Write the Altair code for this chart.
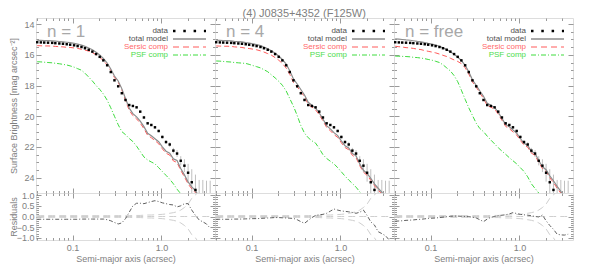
import altair as alt
import pandas as pd

# ---------------- data ----------------
SMA = [0.040, 0.044, 0.048, 0.053, 0.059, 0.064, 0.071, 0.078, 0.086, 0.094,
       0.104, 0.114, 0.126, 0.138, 0.152, 0.167, 0.184, 0.202, 0.222, 0.245,
       0.269, 0.296, 0.326, 0.358, 0.394, 0.434, 0.477, 0.525, 0.577, 0.635,
       0.699, 0.769, 0.845, 0.930, 1.023, 1.125, 1.238, 1.361, 1.497, 1.647,
       1.812, 1.993, 2.192, 2.412, 2.653, 2.918, 3.210, 3.531]

DATA_MAG = [15.18, 15.19, 15.20, 15.21, 15.22, 15.24, 15.26, 15.28, 15.31, 15.34,
            15.38, 15.43, 15.49, 15.57, 15.67, 15.79, 15.95, 16.13, 16.36, 16.68,
            17.12, 17.66, 18.05, 18.50, 18.94, 19.27, 19.33, 19.42, 19.70, 20.08,
            20.46, 20.57, 20.72, 20.96, 21.35, 21.68, 21.84, 22.24, 22.43, 22.90,
            23.22, 23.68, 24.30, 24.80, 25.40, 25.75, 26.20, 26.70]

DATA_ERR = [0.04, 0.04, 0.04, 0.04, 0.04, 0.04, 0.04, 0.04, 0.04, 0.04,
            0.04, 0.04, 0.04, 0.04, 0.04, 0.04, 0.04, 0.04, 0.04, 0.04,
            0.04, 0.04, 0.04, 0.04, 0.04, 0.04, 0.05, 0.05, 0.05, 0.06,
            0.07, 0.07, 0.08, 0.09, 0.10, 0.12, 0.15, 0.18, 0.22, 0.30,
            0.42, 0.58, 0.85, 1.00, 1.25, 1.60, 2.00, 2.50]

TOTAL_N1 = [15.05, 15.06, 15.07, 15.08, 15.09, 15.11, 15.13, 15.15, 15.18, 15.21,
            15.25, 15.30, 15.37, 15.45, 15.55, 15.67, 15.83, 16.01, 16.24, 16.53,
            16.92, 17.38, 17.70, 18.20, 18.84, 19.47, 19.83, 20.04, 20.32, 20.68,
            21.11, 21.27, 21.46, 21.66, 21.99, 22.28, 22.40, 22.78, 22.88, 23.40,
            23.82, 24.28, 24.60, 24.85, 25.24, 25.50, 25.85, 26.15]
SERSIC_N1 = [15.40, 15.41, 15.42, 15.42, 15.43, 15.45, 15.47, 15.48, 15.51, 15.52,
             15.55, 15.58, 15.64, 15.69, 15.76, 15.86, 15.99, 16.16, 16.38, 16.65,
             17.03, 17.48, 17.78, 18.28, 18.97, 19.62, 19.96, 20.17, 20.45, 20.81,
             21.24, 21.40, 21.59, 21.79, 22.12, 22.41, 22.53, 22.91, 23.01, 23.53,
             23.95, 24.41, 24.73, 24.98, 25.37, 25.63, 25.98, 26.28]
PSF_N1 = [16.45, 16.46, 16.48, 16.50, 16.52, 16.55, 16.58, 16.62, 16.66, 16.72,
          16.80, 16.90, 17.00, 17.20, 17.45, 17.70, 18.00, 18.25, 18.55, 18.95,
          19.45, 20.00, 20.55, 21.00, 21.20, 21.45, 21.65, 21.95, 22.30, 22.65,
          22.85, 22.98, 23.10, 23.35, 23.60, 23.85, 24.10, 24.40, 24.75, 25.05,
          25.40, 25.75, 26.10, 26.50, 26.90, 27.30, 27.70, 28.10]
RESID_N1 = [-0.13, -0.13, -0.13, -0.13, -0.13, -0.13, -0.13, -0.13, -0.13, -0.13,
            -0.13, -0.13, -0.12, -0.12, -0.12, -0.12, -0.12, -0.12, -0.12, -0.15,
            -0.20, -0.28, -0.35, -0.30, -0.10, 0.20, 0.50, 0.62, 0.62, 0.60,
            0.65, 0.70, 0.74, 0.70, 0.64, 0.60, 0.56, 0.54, 0.45, 0.50,
            0.60, 0.60, 0.30, 0.05, -0.16, -0.25, -0.35, -0.55]

TOTAL_N4 = [15.05, 15.06, 15.07, 15.08, 15.09, 15.12, 15.14, 15.16, 15.20, 15.23,
            15.28, 15.33, 15.40, 15.49, 15.60, 15.73, 15.90, 16.08, 16.30, 16.61,
            17.04, 17.57, 17.90, 18.26, 18.62, 19.09, 19.28, 19.47, 19.78, 20.18,
            20.61, 20.82, 21.07, 21.26, 21.61, 21.92, 22.06, 22.43, 22.58, 23.10,
            23.52, 23.73, 24.05, 24.40, 24.69, 24.95, 25.30, 25.60]
SERSIC_N4 = [15.42, 15.43, 15.44, 15.44, 15.45, 15.48, 15.50, 15.52, 15.57, 15.59,
             15.63, 15.67, 15.74, 15.82, 15.92, 16.02, 16.18, 16.35, 16.56, 16.86,
             17.27, 17.80, 18.08, 18.40, 18.73, 19.23, 19.40, 19.59, 19.90, 20.30,
             20.73, 20.94, 21.19, 21.38, 21.73, 22.04, 22.18, 22.55, 22.70, 23.22,
             23.64, 23.85, 24.17, 24.52, 24.81, 25.07, 25.42, 25.72]
PSF_N4 = [16.40, 16.41, 16.43, 16.45, 16.47, 16.50, 16.52, 16.54, 16.56, 16.62,
          16.70, 16.77, 16.85, 16.97, 17.10, 17.30, 17.50, 17.72, 17.98, 18.35,
          18.85, 19.35, 19.95, 20.60, 21.10, 21.40, 21.60, 21.75, 22.10, 22.50,
          22.75, 22.93, 23.10, 23.35, 23.62, 23.90, 24.15, 24.38, 24.62, 24.92,
          25.20, 25.50, 25.80, 26.10, 26.40, 26.70, 27.00, 27.30]
RESID_N4 = [-0.13, -0.13, -0.13, -0.13, -0.13, -0.12, -0.12, -0.12, -0.11, -0.11,
            -0.10, -0.10, -0.09, -0.08, -0.07, -0.06, -0.05, -0.05, -0.06, -0.07,
            -0.08, -0.09, -0.15, -0.24, -0.32, -0.18, -0.05, 0.05, 0.08, 0.10,
            0.15, 0.25, 0.35, 0.30, 0.26, 0.24, 0.22, 0.19, 0.15, 0.20,
            0.30, 0.05, -0.25, -0.40, -0.71, -0.80, -0.90, -1.10]

TOTAL_NFREE = [14.96, 14.98, 15.00, 15.03, 15.05, 15.08, 15.12, 15.15, 15.20, 15.25,
               15.30, 15.36, 15.44, 15.54, 15.66, 15.80, 15.97, 16.15, 16.37, 16.68,
               17.11, 17.63, 17.98, 18.35, 18.70, 19.15, 19.29, 19.42, 19.74, 20.14,
               20.54, 20.69, 20.90, 21.10, 21.45, 21.76, 21.90, 22.28, 22.43, 22.88,
               23.29, 23.48, 23.88, 24.20, 24.57, 24.89, 25.33, 25.87]
SERSIC_NFREE = [15.44, 15.47, 15.49, 15.53, 15.55, 15.58, 15.63, 15.66, 15.72, 15.77,
                15.82, 15.87, 15.95, 16.03, 16.11, 16.22, 16.33, 16.43, 16.57, 16.84,
                17.25, 17.77, 18.10, 18.47, 18.84, 19.30, 19.41, 19.54, 19.86, 20.26,
                20.66, 20.81, 21.02, 21.22, 21.57, 21.88, 22.02, 22.40, 22.55, 23.00,
                23.41, 23.60, 24.00, 24.32, 24.69, 25.01, 25.45, 25.99]
PSF_NFREE = [16.08, 16.09, 16.10, 16.11, 16.13, 16.16, 16.18, 16.21, 16.25, 16.30,
             16.35, 16.42, 16.50, 16.65, 16.85, 17.05, 17.35, 17.75, 18.30, 18.90,
             19.45, 19.95, 20.45, 20.80, 21.00, 21.30, 21.55, 21.80, 22.05, 22.27,
             22.48, 22.70, 22.90, 23.10, 23.35, 23.60, 23.95, 24.40, 24.70, 25.00,
             25.30, 25.60, 25.90, 26.20, 26.50, 26.80, 27.10, 27.40]
RESID_NFREE = [-0.22, -0.21, -0.20, -0.18, -0.17, -0.16, -0.14, -0.13, -0.11, -0.09,
               -0.08, -0.07, -0.05, -0.03, -0.01, 0.01, 0.02, 0.02, 0.01, 0.00,
               -0.01, -0.03, -0.07, -0.15, -0.24, -0.12, -0.04, 0.00, 0.04, 0.06,
               0.08, 0.12, 0.18, 0.14, 0.10, 0.08, 0.06, 0.04, 0.00, -0.02,
               0.07, -0.20, -0.42, -0.60, -0.83, -0.86, -0.87, -0.83]

PANEL_LABELS = ["n = 1", "n = 4", "n = free"]
LEGEND_LABELS = ["data", "total model", "Sersic comp", "PSF comp"]
TITLE = "(4) J0835+4352 (F125W)"
Y_TITLE = "Surface Brightness [mag arcsec\u207b\u00b2]"
R_TITLE = "Residuals"
X_TITLE = "Semi-major axis (acrsec)"

X_MAJOR = [0.1, 1.0]
X_MINOR = [0.04, 0.05, 0.06, 0.07, 0.08, 0.09, 0.2, 0.3, 0.4, 0.5, 0.6, 0.7,
           0.8, 0.9, 2.0, 3.0]
Y_MAJOR = [14, 16, 18, 20, 22, 24]
Y_MINOR = [14.5, 15, 15.5, 16.5, 17, 17.5, 18.5, 19, 19.5, 20.5, 21, 21.5,
           22.5, 23, 23.5, 24.5]
R_MAJOR = [-1.0, -0.5, 0.0, 0.5, 1.0]
R_MINOR = [-0.9, -0.8, -0.7, -0.6, -0.4, -0.3, -0.2, -0.1, 0.1, 0.2, 0.3, 0.4,
           0.6, 0.7, 0.8, 0.9]

TOTALS = [TOTAL_N1, TOTAL_N4, TOTAL_NFREE]
SERSICS = [SERSIC_N1, SERSIC_N4, SERSIC_NFREE]
PSFS = [PSF_N1, PSF_N4, PSF_NFREE]
RESIDS = [RESID_N1, RESID_N4, RESID_NFREE]

# ---------------- style ----------------
FONT = "Liberation Sans"
AX = "#808080"
ERRC = "#b0b0b0"
GREYL = "#8c8c8c"
RED = "#ff5a5a"
GREEN = "#3edc3e"
LIGHT = "#cfcfcf"
DARK = "#5f5f5f"
PW, MH, RH = 179, 175, 47
BIG, SMALL = 5, 2.5

XS = alt.Scale(type="log", domain=[0.0388, 4.0], nice=False)
YS = alt.Scale(domain=[25.0, 13.6], nice=False, zero=False)
RS = alt.Scale(domain=[-1.1, 1.1], nice=False, zero=False)


def axis(orient, values, size, labels=False, fmt="", title=None, pad=2, **kw):
    args = dict(orient=orient, values=values, tickSize=alt.ExprRef(f"{-size}"),
                ticks=True, domain=False, grid=False, labels=labels,
                tickColor=AX, tickWidth=0.8, title=title)
    if labels:
        args.update(labelColor=AX, labelFont=FONT, labelFontSize=9,
                    labelPadding=size + pad, format=fmt)
    if title:
        args.update(titleColor=AX, titleFont=FONT, titleFontSize=9,
                    titleFontWeight="normal")
    args.update(kw)
    return alt.Axis(**args)


def decorations(k):
    layers = []
    layers.append(alt.Chart().mark_text(align="left", baseline="middle", font=FONT,
                                        fontSize=17, color="#a8a8a8").encode(
        x=alt.value(11), y=alt.value(14), text=alt.value(PANEL_LABELS[k])))
    ys = [13, 21, 29, 37]
    tcol = ["#505050", "#505050", "#ff6a6a", "#4ddc4d"]
    for i, lab in enumerate(LEGEND_LABELS):
        layers.append(alt.Chart().mark_text(align="right", baseline="middle", font=FONT,
                                            fontSize=8, color=tcol[i]).encode(
            x=alt.value(132), y=alt.value(ys[i]), text=alt.value(lab)))
    layers.append(alt.Chart().mark_rule(color="black", strokeWidth=2.5,
                                        strokeDash=[2.5, 7.8]).encode(
        x=alt.value(137), x2=alt.value(170), y=alt.value(ys[0])))
    layers.append(alt.Chart().mark_rule(color=GREYL, strokeWidth=1.3).encode(
        x=alt.value(137), x2=alt.value(170), y=alt.value(ys[1])))
    layers.append(alt.Chart().mark_rule(color=RED, strokeWidth=1, strokeDash=[6, 4]).encode(
        x=alt.value(137), x2=alt.value(170), y=alt.value(ys[2])))
    layers.append(alt.Chart().mark_rule(color=GREEN, strokeWidth=1,
                                        strokeDash=[5, 2, 1, 2]).encode(
        x=alt.value(137), x2=alt.value(170), y=alt.value(ys[3])))
    return layers


def main_panel(k):
    first = k == 0
    df = pd.DataFrame({"sma": SMA, "mag": DATA_MAG, "err": DATA_ERR,
                       "tot": TOTALS[k], "ser": SERSICS[k], "psf": PSFS[k]})
    df["lo"] = df["mag"] - df["err"]
    df["hi"] = df["mag"] + df["err"]
    base = alt.Chart(df)
    yl = axis("left", Y_MAJOR, BIG, labels=first, fmt="d",
              title=Y_TITLE if first else None, titleX=-18, titleY=MH / 2)
    err = base.mark_rule(color=ERRC, strokeWidth=0.8, clip=True).encode(
        x=alt.X("sma:Q", scale=XS, axis=axis("bottom", X_MAJOR, BIG)),
        y=alt.Y("lo:Q", scale=YS, axis=yl), y2="hi:Q")
    psf = base.mark_line(color=GREEN, strokeWidth=1, strokeDash=[5, 2, 1, 2],
                         clip=True).encode(
        x=alt.X("sma:Q", scale=XS, axis=axis("bottom", X_MINOR, SMALL)),
        y=alt.Y("psf:Q", scale=YS, axis=axis("left", Y_MINOR, SMALL)))
    ser = base.mark_line(color=RED, strokeWidth=1, strokeDash=[5, 3], clip=True).encode(
        x=alt.X("sma:Q", scale=XS, axis=axis("top", X_MAJOR, BIG)),
        y=alt.Y("ser:Q", scale=YS, axis=axis("right", Y_MAJOR, BIG)))
    tot = base.mark_line(color=GREYL, strokeWidth=1.2, clip=True).encode(
        x=alt.X("sma:Q", scale=XS, axis=axis("top", X_MINOR, SMALL)),
        y=alt.Y("tot:Q", scale=YS, axis=axis("right", Y_MINOR, SMALL)))
    dots = base.mark_square(size=6, color="black", opacity=1, clip=True).encode(
        x=alt.X("sma:Q", scale=XS, axis=None),
        y=alt.Y("mag:Q", scale=YS, axis=None))
    return alt.layer(err, psf, ser, tot, dots, *decorations(k)).resolve_axis(
        x="independent", y="independent").properties(width=PW, height=MH)


def resid_panel(k):
    first = k == 0
    df = pd.DataFrame({"sma": SMA, "res": RESIDS[k], "up": DATA_ERR})
    df["dn"] = -df["up"]
    df["zero"] = 0.0
    base = alt.Chart(df)
    xb = axis("bottom", X_MAJOR, BIG, labels=True, fmt=".1f", title=X_TITLE,
              pad=3, titlePadding=2)
    yl = axis("left", R_MAJOR, BIG, labels=first, fmt=".1f",
              title=R_TITLE if first else None, titleX=-18, titleY=RH / 2)
    zero = base.mark_line(color=LIGHT, strokeWidth=1, strokeDash=[7, 4], clip=True).encode(
        x=alt.X("sma:Q", scale=XS, axis=xb),
        y=alt.Y("zero:Q", scale=RS, axis=yl))
    up = base.mark_line(color=LIGHT, strokeWidth=1, strokeDash=[7, 4], clip=True).encode(
        x=alt.X("sma:Q", scale=XS, axis=axis("bottom", X_MINOR, SMALL)),
        y=alt.Y("up:Q", scale=RS, axis=axis("left", R_MINOR, SMALL)))
    dn = base.mark_line(color=LIGHT, strokeWidth=1, strokeDash=[7, 4], clip=True).encode(
        x=alt.X("sma:Q", scale=XS, axis=axis("top", X_MAJOR, BIG)),
        y=alt.Y("dn:Q", scale=RS, axis=axis("right", R_MAJOR, BIG)))
    res = base.mark_line(color=DARK, strokeWidth=1, strokeDash=[4, 2, 1, 2],
                         clip=True).encode(
        x=alt.X("sma:Q", scale=XS, axis=axis("top", X_MINOR, SMALL)),
        y=alt.Y("res:Q", scale=RS, axis=axis("right", R_MINOR, SMALL)))
    return alt.layer(zero, up, dn, res).resolve_axis(
        x="independent", y="independent").properties(width=PW, height=RH)


panels = [main_panel(k) for k in range(3)] + [resid_panel(k) for k in range(3)]

chart = alt.concat(*panels, columns=3, spacing=0, bounds="flush").properties(
    title=alt.TitleParams(TITLE, anchor="middle", fontSize=11, font=FONT, color=AX,
                          fontWeight="normal", offset=-2, frame="bounds", dx=13),
    padding={"left": 0, "top": 0, "right": 5, "bottom": 5},
).configure_view(stroke=AX, strokeWidth=1).configure(background="white")

chart.save("out.html", embed_options={"renderer": "svg", "actions": False})
